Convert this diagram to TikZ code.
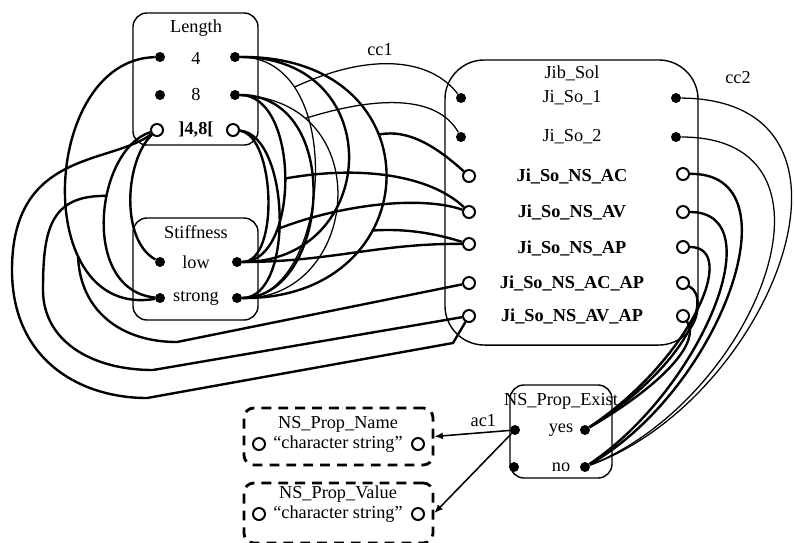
\documentclass[tikz,border=0pt]{standalone}
\usepackage{fontspec}
\setmainfont{Liberation Serif}
\usepackage{tikz}
\usetikzlibrary{arrows.meta, positioning, calc}

\begin{document}
\begin{tikzpicture}[
    x=0.025cm, y=-0.025cm,
    every node/.style={font=\fontsize{13}{15}\selectfont},
    box/.style={draw, line width=1pt, rounded corners=10pt, inner sep=0pt},
    dbox/.style={draw, line width=2pt, dash pattern=on 7pt off 5pt, rounded corners=7pt, inner sep=0pt},
    dot/.style={circle, fill, inner sep=0pt, minimum size=0.25cm},
    hole/.style={circle, draw, line width=1.4pt, inner sep=0pt, minimum size=0.3cm},
    lab/.style={inner sep=1pt},
    nslab/.style={inner sep=1pt, font=\fontsize{13}{15}\selectfont\bfseries},
    wire/.style={line width=1.7pt},
    thinwire/.style={line width=0.9pt},
    arr/.style={line width=1.1pt, -{Latex[length=6pt, width=5pt]}}
]
    \useasboundingbox (0,0) rectangle (795,542);

    % Length
    \node[box, minimum width=3.125cm, minimum height=3.3cm] (len) at (195.5,79) {};
    \node[lab] (lent) at (196,28) {Length};
    \node[lab] (l4) at (196,58) {4};
    \node[lab] (l8) at (196,95) {8};
    \node[nslab] (li) at (196,130) {]4,8[};
    \node[dot] (L4l) at (160,57) {};
    \node[dot] (L4r) at (235,57) {};
    \node[dot] (L8l) at (160,95) {};
    \node[dot] (L8r) at (235,95) {};
    \node[hole] (Lil) at (157,130) {};
    \node[hole] (Lir) at (233,130) {};

    % Stiffness
    \node[box, minimum width=3.125cm, minimum height=2.55cm] (stf) at (195.5,269) {};
    \node[lab] (stft) at (196,232) {Stiffness};
    \node[lab] (sl) at (196,262) {low};
    \node[lab] (ss) at (196,298) {strong};
    \node[dot] (Sll) at (160,262) {};
    \node[dot] (Slr) at (237,262) {};
    \node[dot] (Ssl) at (160,298) {};
    \node[dot] (Ssr) at (237,298) {};

    % Jib_Sol
    \node[box, rounded corners=28pt, minimum width=6.325cm, minimum height=7.125cm] (jib) at (571.5,202.5) {};
    \node[lab] (jibt) at (572,73) {Jib\_Sol};
    \node[lab] (j1) at (572,98) {Ji\_So\_1};
    \node[lab] (j2) at (572,137) {Ji\_So\_2};
    \node[nslab] (jac) at (572,176) {Ji\_So\_NS\_AC};
    \node[nslab] (jav) at (572,212) {Ji\_So\_NS\_AV};
    \node[nslab] (jap) at (572,248) {Ji\_So\_NS\_AP};
    \node[nslab] (jacap) at (572,283) {Ji\_So\_NS\_AC\_AP};
    \node[nslab] (javap) at (572,316) {Ji\_So\_NS\_AV\_AP};
    \node[dot] (J1l) at (461,98) {};
    \node[dot] (J1r) at (676,98) {};
    \node[dot] (J2l) at (461,137) {};
    \node[dot] (J2r) at (676,137) {};
    \node[hole] (ACl) at (469,176) {};
    \node[hole] (ACr) at (683,174) {};
    \node[hole] (AVl) at (469,212) {};
    \node[hole] (AVr) at (683,212) {};
    \node[hole] (APl) at (469,244) {};
    \node[hole] (APr) at (683,247) {};
    \node[hole] (ACAPl) at (469,283) {};
    \node[hole] (ACAPr) at (683,283) {};
    \node[hole] (AVAPl) at (469,316) {};
    \node[hole] (AVAPr) at (683,316) {};

    % NS_Prop_Exist
    \node[box, minimum width=2.55cm, minimum height=2.325cm] (ex) at (561,431.5) {};
    \node[lab] (ext) at (561,401) {NS\_Prop\_Exist};
    \node[lab] (ey) at (561,430) {yes};
    \node[lab] (en) at (561,467) {no};
    \node[dot] (Yl) at (515,430) {};
    \node[dot] (Yr) at (585,430) {};
    \node[dot] (Nl) at (514,467) {};
    \node[dot] (Nr) at (585,467) {};

    % NS_Prop_Name, NS_Prop_Value
    \node[dbox, minimum width=4.725cm, minimum height=1.425cm] (nm) at (338.5,436.5) {};
    \node[lab] (nmt) at (338,424) {NS\_Prop\_Name};
    \node[lab] (nms) at (338,444) {“character string”};
    \node[hole] (Nml) at (259,444) {};
    \node[hole] (Nmr) at (418,444) {};
    \node[dbox, minimum width=4.725cm, minimum height=1.5cm] (val) at (338.5,513) {};
    \node[lab] (valt) at (338,494) {NS\_Prop\_Value};
    \node[lab] (vals) at (338,514) {“character string”};
    \node[hole] (Vl) at (259,514) {};
    \node[hole] (Vr) at (418,514) {};

    % cc1: Length -- Stiffness -- Jib_Sol
    \node[lab] (cc1) at (380,50) {cc1};
    \draw[wire] (L4r) .. controls (440,55) and (430,300) .. (Ssr)
        coordinate[pos=0.38] (q1) coordinate[pos=0.65] (q4);
    \draw[wire] (L4r) .. controls (390,57) and (380,262) .. (Slr);
    \draw[thinwire] (L4r) .. controls (350,57) and (330,300) .. (Ssr) coordinate[pos=0.22] (q3);
    \draw[wire] (L8r) .. controls (345,95) and (330,298) .. (Ssr);
    \draw[wire] (L8r) .. controls (300,95) and (300,262) .. (Slr) coordinate[pos=0.5] (r2);
    \draw[thinwire] (L8r) .. controls (380,100) and (360,300) .. (Ssr) coordinate[pos=0.2] (r3);
    \draw[wire] (Lir) .. controls (275,135) and (280,262) .. (Slr);
    \draw[wire] (Lir) .. controls (290,135) and (295,298) .. (Ssr) coordinate[pos=0.55] (s1);
    \draw[thinwire] (q3) .. controls (370,52) and (430,58) .. (J1l);
    \draw[thinwire] (r3) .. controls (390,92) and (440,100) .. (J2l);
    \draw[wire] (q1) .. controls (410,128) and (440,150) .. (ACl);
    \draw[wire] (r2) .. controls (360,165) and (430,175) .. (AVl);
    \draw[wire] (s1) .. controls (340,205) and (420,195) .. (AVl);
    \draw[wire] (q4) .. controls (410,228) and (440,235) .. (APl);
    \draw[wire] (Slr) .. controls (330,262) and (380,243) .. (APl);

    % left loops
    \draw[wire] (L4l) .. controls (40,60) and (30,320) .. (Ssl) coordinate[pos=0.7] (p1);
    \draw[wire] (Lil) .. controls (125,160) and (120,240) .. (Sll);
    \draw[wire] (Lil) .. controls (95,150) and (80,290) .. (Ssl) coordinate[pos=0.4] (p2);
    \draw[wire] (p1) .. controls (80,310) and (120,342) .. (177,342) -- (ACAPl);
    \draw[wire] (p2) .. controls (50,195) and (43,230) .. (43,290)
        .. controls (43,340) and (90,370) .. (153,370) -- (AVAPl);
    \draw[wire] (Lil) .. controls (110,165) and (12,150) .. (12,270)
        .. controls (12,360) and (80,398) .. (147,398) -- (453,343) -- (AVAPl);

    % cc2: Jib_Sol -- NS_Prop_Exist
    \node[lab] (cc2) at (738,78) {cc2};
    \draw[thinwire] (J1r) .. controls (890,100) and (770,400) .. (Nr);
    \draw[thinwire] (J2r) .. controls (860,137) and (755,400) .. (Nr);
    \draw[wire] (ACr) .. controls (800,172) and (720,390) .. (Nr);
    \draw[wire] (AVr) .. controls (775,212) and (700,390) .. (Nr);
    \draw[wire] (APr) .. controls (740,247) and (690,360) .. (Yr);
    \draw[wire] (ACAPr) .. controls (715,300) and (680,370) .. (Yr);
    \draw[wire] (AVAPr) .. controls (700,340) and (670,380) .. (Yr);

    % ac1
    \draw[arr] (Yl) -- (nm.east) node[pos=0.35, above] (ac1) {ac1};
    \draw[arr] (Yl) -- (val.east);
\end{tikzpicture}
\end{document}
